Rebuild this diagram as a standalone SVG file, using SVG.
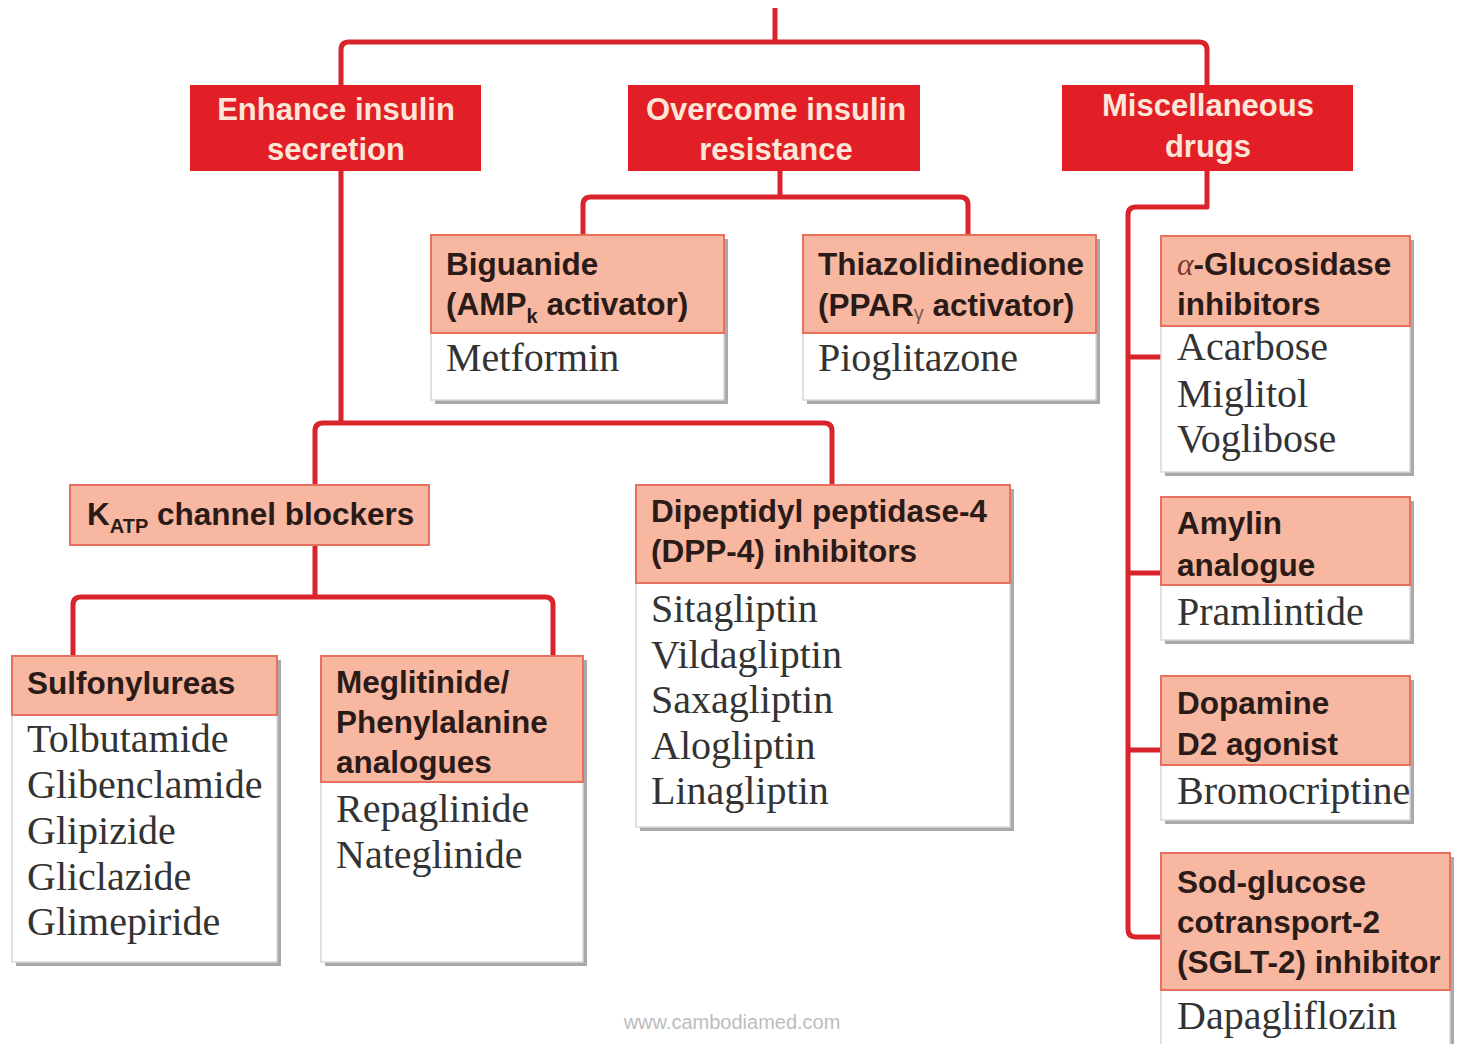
<svg xmlns="http://www.w3.org/2000/svg" width="1463" height="1044" viewBox="0 0 1463 1044">
<style>
.red{fill:#e21f26}
.rt{font-family:"Liberation Sans",Arial,sans-serif;font-weight:bold;font-size:31px;fill:#fbe6d8;text-anchor:middle}
.sh{fill:#a9a9a9}
.body{fill:#ffffff;stroke:#d8d8d8;stroke-width:1.5}
.hd{fill:#f8b7a0;stroke:#e8705e;stroke-width:2}
.ht{font-family:"Liberation Sans",Arial,sans-serif;font-weight:bold;font-size:31.5px;fill:#2b1b18}
.st{font-family:"Liberation Serif","Times New Roman",serif;font-size:40px;fill:#333333}
.con{fill:none;stroke:#d9232d;stroke-width:5;stroke-linejoin:round;stroke-linecap:butt}
.wm{font-family:"Liberation Sans",Arial,sans-serif;font-size:20px;fill:#bdbdbd;text-anchor:middle}
.sub{font-size:20px}
</style>
<rect width="1463" height="1044" fill="#ffffff"/>
<g id="connectors">
<path class="con" d="M775,8 V42"/>
<path class="con" d="M341,85 V50 Q341,42 349,42 H1199 Q1207,42 1207,50 V85"/>
<path class="con" d="M341,171 V423"/>
<path class="con" d="M315,485 V431 Q315,423 323,423 H824 Q832,423 832,431 V485"/>
<path class="con" d="M780,171 V197"/>
<path class="con" d="M583,235 V205 Q583,197 591,197 H960 Q968,197 968,205 V235"/>
<path class="con" d="M315,545 V597"/>
<path class="con" d="M73,656 V605 Q73,597 81,597 H545 Q553,597 553,605 V656"/>
<path class="con" d="M1207,171 V207 H1136 Q1128,207 1128,215 V929 Q1128,937 1136,937 H1161"/>
<path class="con" d="M1128,357 H1161"/>
<path class="con" d="M1128,573 H1161"/>
<path class="con" d="M1128,750 H1161"/>
</g>
<g id="enhance">
<rect class="red" x="190" y="85" width="291" height="86"/>
<text class="rt" x="336" y="120">Enhance insulin</text>
<text class="rt" x="336" y="160">secretion</text>
</g>
<g id="overcome">
<rect class="red" x="628" y="85" width="292" height="86"/>
<text class="rt" x="776" y="120">Overcome insulin</text>
<text class="rt" x="776" y="160">resistance</text>
</g>
<g id="misc">
<rect class="red" x="1062" y="85" width="291" height="86"/>
<text class="rt" x="1208" y="116">Miscellaneous</text>
<text class="rt" x="1208" y="157">drugs</text>
</g>
<g id="biguanide">
<rect class="sh" x="435" y="239" width="293" height="165"/>
<rect class="body" x="431" y="235" width="293" height="165"/>
<rect class="hd" x="431" y="235" width="293" height="98"/>
<text class="ht" x="446" y="275">Biguanide</text>
<text class="ht" x="446" y="315">(AMP<tspan class="sub" dy="8">k</tspan><tspan dy="-8"> activator)</tspan></text>
<text class="st" x="446" y="371">Metformin</text>
</g>
<g id="thiazolidinedione">
<rect class="sh" x="807" y="239" width="293" height="165"/>
<rect class="body" x="803" y="235" width="293" height="165"/>
<rect class="hd" x="803" y="235" width="293" height="98"/>
<text class="ht" x="818" y="275">Thiazolidinedione</text>
<text class="ht" x="818" y="316">(PPAR<tspan class="sub" dy="4" font-weight="normal" fill="#7a5a50">γ</tspan><tspan dy="-4"> activator)</tspan></text>
<text class="st" x="818" y="371">Pioglitazone</text>
</g>
<g id="glucosidase">
<rect class="sh" x="1165" y="240" width="249" height="236"/>
<rect class="body" x="1161" y="236" width="249" height="236"/>
<rect class="hd" x="1161" y="236" width="249" height="90"/>
<text class="ht" x="1177" y="275"><tspan font-family="Liberation Serif,serif" font-style="italic" font-weight="normal" fill="#7a3a30">α</tspan>-Glucosidase</text>
<text class="ht" x="1177" y="315">inhibitors</text>
<text class="st" x="1177" y="360">Acarbose</text>
<text class="st" x="1177" y="407">Miglitol</text>
<text class="st" x="1177" y="452">Voglibose</text>
</g>
<g id="katp">
<rect class="hd" x="70" y="485" width="359" height="60"/>
<text class="ht" x="87" y="525">K<tspan class="sub" dy="8">ATP</tspan><tspan dy="-8"> channel blockers</tspan></text>
</g>
<g id="dpp4">
<rect class="sh" x="640" y="489" width="374" height="342"/>
<rect class="body" x="636" y="485" width="374" height="342"/>
<rect class="hd" x="636" y="485" width="374" height="98"/>
<text class="ht" x="651" y="522">Dipeptidyl peptidase-4</text>
<text class="ht" x="651" y="562">(DPP-4) inhibitors</text>
<text class="st" x="651" y="622">Sitagliptin</text>
<text class="st" x="651" y="668">Vildagliptin</text>
<text class="st" x="651" y="713">Saxagliptin</text>
<text class="st" x="651" y="759">Alogliptin</text>
<text class="st" x="651" y="804">Linagliptin</text>
</g>
<g id="sulfonylureas">
<rect class="sh" x="16" y="660" width="265" height="306"/>
<rect class="body" x="12" y="656" width="265" height="306"/>
<rect class="hd" x="12" y="656" width="265" height="59"/>
<text class="ht" x="27" y="694">Sulfonylureas</text>
<text class="st" x="27" y="752">Tolbutamide</text>
<text class="st" x="27" y="798">Glibenclamide</text>
<text class="st" x="27" y="844">Glipizide</text>
<text class="st" x="27" y="890">Gliclazide</text>
<text class="st" x="27" y="935">Glimepiride</text>
</g>
<g id="meglitinide">
<rect class="sh" x="325" y="660" width="262" height="306"/>
<rect class="body" x="321" y="656" width="262" height="306"/>
<rect class="hd" x="321" y="656" width="262" height="126"/>
<text class="ht" x="336" y="693">Meglitinide/</text>
<text class="ht" x="336" y="733">Phenylalanine</text>
<text class="ht" x="336" y="773">analogues</text>
<text class="st" x="336" y="822">Repaglinide</text>
<text class="st" x="336" y="868">Nateglinide</text>
</g>
<g id="amylin">
<rect class="sh" x="1165" y="501" width="249" height="143"/>
<rect class="body" x="1161" y="497" width="249" height="143"/>
<rect class="hd" x="1161" y="497" width="249" height="88"/>
<text class="ht" x="1177" y="534">Amylin</text>
<text class="ht" x="1177" y="576">analogue</text>
<text class="st" x="1177" y="625">Pramlintide</text>
</g>
<g id="dopamine">
<rect class="sh" x="1165" y="680" width="249" height="144"/>
<rect class="body" x="1161" y="676" width="249" height="144"/>
<rect class="hd" x="1161" y="676" width="249" height="89"/>
<text class="ht" x="1177" y="714">Dopamine</text>
<text class="ht" x="1177" y="755">D2 agonist</text>
<text class="st" x="1177" y="804">Bromocriptine</text>
</g>
<g id="sglt2">
<rect class="sh" x="1165" y="857" width="289" height="200"/>
<rect class="body" x="1161" y="853" width="289" height="200"/>
<rect class="hd" x="1161" y="853" width="289" height="137"/>
<text class="ht" x="1177" y="893">Sod-glucose</text>
<text class="ht" x="1177" y="933">cotransport-2</text>
<text class="ht" x="1177" y="973">(SGLT-2) inhibitor</text>
<text class="st" x="1177" y="1029">Dapagliflozin</text>
</g>
<text class="wm" x="732" y="1029">www.cambodiamed.com</text>
</svg>
